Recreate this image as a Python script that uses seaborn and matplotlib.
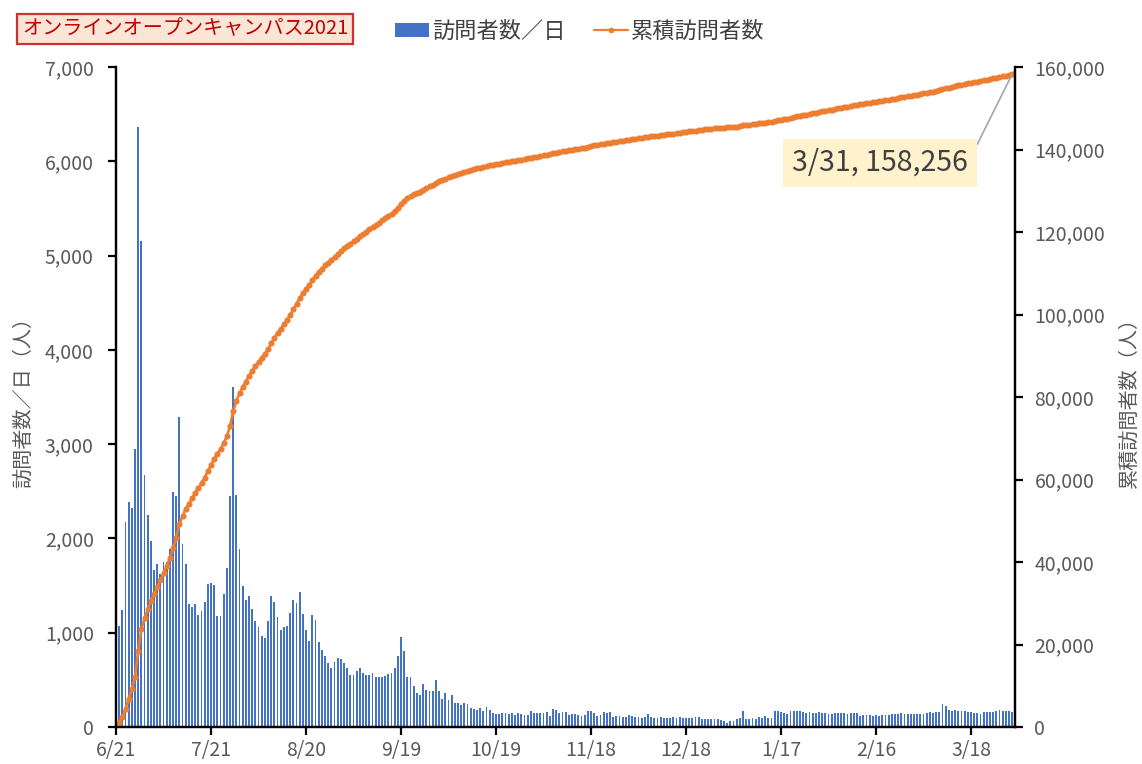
import numpy as np
import pandas as pd
import matplotlib
matplotlib.use("Agg")
import matplotlib.pyplot as plt
from matplotlib.patches import Patch
from matplotlib.lines import Line2D
from matplotlib.ticker import FuncFormatter
import seaborn as sns

# Daily visitors of the online open campus, 2021-06-21 .. 2022-03-31
daily_visitors = [
    0, 1070, 1240, 2170, 2390, 2320, 2950, 6360, 5150, 2670,
    2250, 1970, 1670, 1730, 1620, 1750, 1750, 1890, 2490, 2450,
    3290, 1936, 1730, 1300, 1270, 1310, 1190, 1230, 1330, 1520,
    1530, 1510, 1180, 1180, 1410, 1690, 2450, 3610, 2460, 1890,
    1500, 1350, 1390, 1250, 1120, 1060, 970, 940, 1120, 1390,
    1330, 1170, 1030, 1060, 1070, 1210, 1350, 1320, 1430, 1200,
    1030, 910, 1190, 1130, 900, 820, 750, 680, 630, 690,
    730, 720, 680, 630, 550, 550, 590, 630, 570, 550,
    550, 570, 530, 530, 530, 540, 560, 570, 630, 750,
    950, 810, 530, 530, 440, 360, 340, 460, 390, 380,
    380, 500, 380, 300, 360, 290, 340, 260, 250, 230,
    250, 240, 200, 190, 180, 200, 170, 210, 180, 150,
    140, 140, 145, 145, 135, 145, 125, 145, 135, 130,
    130, 165, 150, 150, 150, 150, 160, 120, 195, 180,
    150, 155, 155, 125, 140, 140, 125, 120, 125, 175,
    175, 150, 115, 125, 160, 150, 160, 110, 115, 120,
    110, 110, 125, 120, 110, 110, 100, 105, 135, 110,
    100, 100, 110, 100, 95, 100, 105, 100, 105, 100,
    95, 100, 100, 105, 105, 90, 80, 90, 85, 85,
    80, 70, 60, 40, 60, 65, 85, 100, 165, 85,
    90, 100, 85, 110, 95, 115, 100, 100, 175, 165,
    155, 145, 135, 170, 165, 175, 165, 160, 145, 160,
    150, 145, 160, 150, 145, 140, 135, 150, 145, 145,
    150, 135, 145, 145, 145, 120, 125, 130, 125, 120,
    125, 120, 125, 125, 125, 140, 140, 140, 145, 140,
    140, 135, 135, 135, 135, 140, 145, 155, 150, 155,
    160, 240, 225, 180, 165, 180, 175, 175, 165, 160,
    155, 145, 150, 140, 160, 160, 160, 160, 165, 180,
    165, 175, 165, 160,
]

dates = pd.date_range("2021-06-21", "2022-03-31", freq="D")
tick_every = 30
left_ticks = [0, 1000, 2000, 3000, 4000, 5000, 6000, 7000]
right_ticks = [0, 20000, 40000, 60000, 80000, 100000, 120000, 140000, 160000]

title_text = "オンラインオープンキャンパス2021"
bar_name = "訪問者数／日"
line_name = "累積訪問者数"
left_label = "訪問者数／日（人）"
right_label = "累積訪問者数（人）"

df = pd.DataFrame({
    "day": np.arange(len(dates)),
    "visitors": daily_visitors,
})
df["cumulative"] = df["visitors"].cumsum()

BAR_BLUE = "#4472C4"
LINE_ORANGE = "#ED7D31"
TXT = "#595959"

sns.set_theme(style="ticks")
plt.rcParams["font.family"] = ["Noto Sans CJK JP", "DejaVu Sans"]

fig = plt.figure(figsize=(11.42, 7.64), dpi=100)
fig.subplots_adjust(left=0.1016, right=0.8888, bottom=0.0484, top=0.9123)
ax = fig.add_subplot(111)

sns.barplot(data=df, x="day", y="visitors", ax=ax, color=BAR_BLUE,
            width=0.55, linewidth=0, saturation=1)

ax2 = ax.twinx()
sns.lineplot(data=df, x="day", y="cumulative", ax=ax2, color=LINE_ORANGE,
             linewidth=1.9, marker="o", markersize=4.4, markeredgewidth=0)

# axes ranges and ticks
ax.set_xlim(0, len(dates) - 0.1)
ax.set_ylim(left_ticks[0], left_ticks[-1])
ax2.set_ylim(right_ticks[0], right_ticks[-1])

xt = list(range(0, len(dates), tick_every))
ax.set_xticks(xt)
ax.set_xticklabels([f"{dates[i].month}/{dates[i].day}" for i in xt])
ax.set_yticks(left_ticks)
ax2.set_yticks(right_ticks)
fmt = FuncFormatter(lambda v, p: f"{int(v):,}")
ax.yaxis.set_major_formatter(fmt)
ax2.yaxis.set_major_formatter(fmt)

for a in (ax, ax2):
    a.set_xlabel("")
    a.spines["top"].set_visible(False)
    for s in a.spines.values():
        s.set_color("black")
        s.set_linewidth(1.6)
    a.grid(False)

ax.tick_params(axis="y", which="major", direction="out", length=6, width=1.6,
               color="black", labelsize=14, labelcolor=TXT, pad=10)
ax.tick_params(axis="x", which="major", direction="out", length=6, width=1.6,
               color="black", labelsize=14, labelcolor=TXT, pad=3)
ax2.tick_params(axis="y", which="major", direction="out", length=6, width=1.6,
                color="black", labelsize=14, labelcolor=TXT, pad=8)

ax.set_ylabel(left_label, fontsize=14.5, color=TXT, labelpad=8)
ax2.set_ylabel(right_label, fontsize=14.5, color=TXT, rotation=90, labelpad=10)

# label for the final cumulative value
last = df.iloc[-1]
last_date = dates[-1]
ax2.annotate(
    f"{last_date.month}/{last_date.day}, {int(last['cumulative']):,}",
    xy=(last["day"], last["cumulative"]), xycoords="data",
    xytext=(0.85, 0.855), textcoords="axes fraction",
    ha="center", va="center", fontsize=20.5, color="#404040",
    bbox=dict(boxstyle="square,pad=0.32", facecolor="#FFF2CC", edgecolor="none"),
    arrowprops=dict(arrowstyle="-", color="#A6A6A6", lw=1.2,
                    shrinkA=0, shrinkB=0, relpos=(1.0, 0.5)),
)

# title box
fig.text(185 / 1142, 1 - 29 / 764, title_text, ha="center", va="center",
         fontsize=14.5, color="#C00000",
         bbox=dict(boxstyle="square,pad=0.22", facecolor="#FBE5D6",
                   edgecolor="#D0302F", linewidth=1.6))

# legend
handles = [
    Patch(facecolor=BAR_BLUE, edgecolor="none"),
    Line2D([], [], color=LINE_ORANGE, lw=1.6, marker="o", markersize=4,
           markeredgewidth=0),
]
fig.legend(handles, [bar_name, line_name], loc="center",
           bbox_to_anchor=(580 / 1142, 1 - 31 / 764), ncol=2, frameon=False,
           fontsize=16, handlelength=1.5, handleheight=0.6,
           handletextpad=0.15, columnspacing=1.3, labelcolor="#404040")

fig.savefig("out.png", dpi=100)
